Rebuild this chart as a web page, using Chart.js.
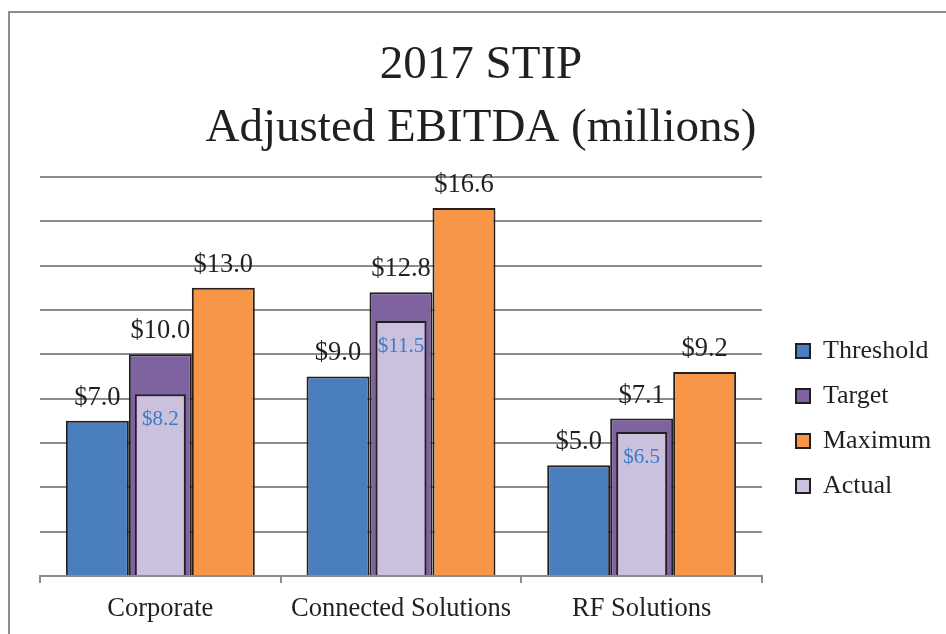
<!DOCTYPE html>
<html>
<head>
<meta charset="utf-8">
<script src="https://cdn.jsdelivr.net/npm/chart.js@4.4.1/dist/chart.umd.min.js"></script>
<style>
    body { margin: 0; background: #ffffff; }
    #wrap { width: 946px; height: 634px; }
</style>
</head>
<body>
<div id="wrap"><canvas id="stipChart" width="946" height="634"></canvas></div>
<script>
// Data (millions of dollars)
const categories = ['Corporate', 'Connected Solutions', 'RF Solutions'];
const thresholdValues = [7.0, 9.0, 5.0];
const targetValues = [10.0, 12.8, 7.1];
const maximumValues = [13.0, 16.6, 9.2];
const actualValues = [8.2, 11.5, 6.5];
const titleLines = ['2017 STIP', 'Adjusted EBITDA (millions)'];

const SERIF = "'Liberation Serif', 'Times New Roman', serif";
const INK = '#231f20';
const GRID = '#8c8c8c';

// 1. White background + the grey frame round the chart
const framePlugin = {
    id: 'frame',
    beforeDraw(chart) {
        const ctx = chart.ctx;
        ctx.save();
        ctx.fillStyle = '#ffffff';
        ctx.fillRect(0, 0, chart.width, chart.height);
        ctx.strokeStyle = GRID;
        ctx.lineWidth = 2;
        ctx.beginPath();
        ctx.moveTo(9, chart.height);
        ctx.lineTo(9, 12);
        ctx.lineTo(chart.width, 12);
        ctx.stroke();
        ctx.restore();
    }
};

// 2. Value labels ($x.x) - black above the bars, blue inside the Actual bar
const valueLabels = {
    id: 'valueLabels',
    afterDatasetsDraw(chart) {
        const ctx = chart.ctx;
        ctx.save();
        ctx.textAlign = 'center';
        ctx.textBaseline = 'alphabetic';
        chart.data.datasets.forEach((ds, i) => {
            const meta = chart.getDatasetMeta(i);
            meta.data.forEach((bar, j) => {
                const text = '$' + ds.data[j].toFixed(1);
                if (ds.label === 'Actual') {
                    ctx.font = `21px ${SERIF}`;
                    ctx.fillStyle = '#3a7bc8';
                    ctx.fillText(text, bar.x, bar.y + 31);
                } else {
                    ctx.font = `26.5px ${SERIF}`;
                    ctx.fillStyle = INK;
                    ctx.fillText(text, bar.x, bar.y - 16);
                }
            });
        });
        ctx.restore();
    }
};

const ctx = document.getElementById('stipChart').getContext('2d');
new Chart(ctx, {
    type: 'bar',
    data: {
        labels: categories,
        datasets: [
            { label: 'Threshold', data: thresholdValues, backgroundColor: '#4a7ebf', borderColor: INK, borderWidth: 2, order: 1 },
            { label: 'Target', data: targetValues, backgroundColor: '#7f63a1', borderColor: INK, borderWidth: 2, order: 1 },
            { label: 'Maximum', data: maximumValues, backgroundColor: '#f79646', borderColor: INK, borderWidth: 2, order: 1 },
            {
                label: 'Actual', data: actualValues, backgroundColor: '#ccc1dc', borderColor: INK, borderWidth: 2,
                order: 0,          // drawn on top of Target
                grouped: false,    // sits at the category centre, inside the Target bar
                categoryPercentage: 0.212, barPercentage: 1
            }
        ]
    },
    options: {
        responsive: false,
        animation: false,
        categoryPercentage: 0.785,
        barPercentage: 1,
        layout: { padding: { left: 25, right: 9, top: 0, bottom: 0 } },
        plugins: {
            tooltip: { enabled: false },
            title: {
                display: true,
                text: titleLines,
                color: INK,
                font: { family: SERIF, size: 47, weight: 'normal', lineHeight: 1.34 },
                padding: { top: 34, bottom: 17 }
            },
            legend: {
                position: 'right',
                align: 'start',
                maxWidth: 160,
                title: { display: true, text: ' ', font: { size: 10, lineHeight: 1 }, padding: { top: 309, bottom: 0 } },
                labels: {
                    color: INK,
                    font: { family: SERIF, size: 26 },
                    boxWidth: 14,
                    boxHeight: 14,
                    padding: 19,
                    sort: (a, b) => a.datasetIndex - b.datasetIndex
                }
            }
        },
        scales: {
            x: {
                grid: { display: true, drawOnChartArea: false, offset: true, tickLength: 7, color: GRID, lineWidth: 2 },
                border: { display: true, color: GRID, width: 2 },
                ticks: { color: INK, font: { family: SERIF, size: 26.5 }, padding: 10 },
                afterFit: (s) => { s.height = 58; }
            },
            y: {
                min: 0, max: 18,
                ticks: { display: false, stepSize: 2 },
                grid: { color: GRID, lineWidth: 2, drawTicks: false },
                border: { display: false },
                afterFit: (s) => { s.width = 15; }
            },
            // empty axis, only keeps the legend off the plot like the original
            y2: {
                position: 'right',
                ticks: { display: false },
                grid: { display: false },
                border: { display: false },
                afterFit: (s) => { s.width = 15; }
            }
        }
    },
    plugins: [framePlugin, valueLabels]
});
</script>
</body>
</html>
